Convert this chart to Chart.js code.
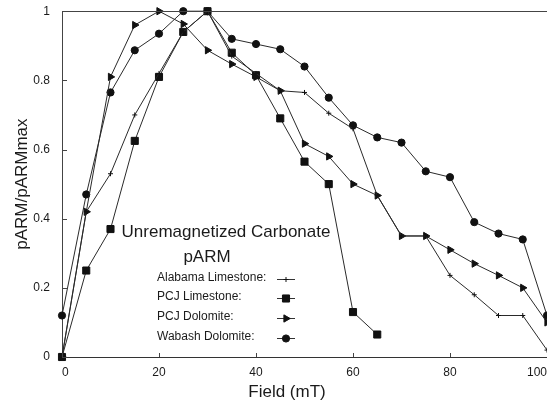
<!DOCTYPE html>
<html>
<head>
<meta charset="utf-8">
<script src="https://cdn.jsdelivr.net/npm/chart.js@4.4.1/dist/chart.umd.min.js"></script>
<style>
  html, body { margin: 0; padding: 0; background: #fff; overflow: hidden; }
  #chart { display: block; }
</style>
</head>
<body>
<canvas id="chart" width="547" height="405"></canvas>
<script>
// ==========================================
// 1. DATA
// ==========================================
const fieldMT = [0, 5, 10, 15, 20, 25, 30, 35, 40, 45, 50, 55, 60, 65, 70, 75, 80, 85, 90, 95, 100];

const alabamaLimestone = [0, 0.42, 0.53, 0.70, 0.82, 0.94, 1.0, 0.87, 0.82, 0.77, 0.765, 0.705, 0.66, 0.467, 0.35, 0.35, 0.236, 0.18, 0.12, 0.12, 0.02];
const pcjLimestone     = [0, 0.25, 0.37, 0.625, 0.81, 0.94, 1.0, 0.88, 0.815, 0.69, 0.565, 0.50, 0.13, 0.065];
const pcjDolomite      = [0, 0.42, 0.81, 0.96, 1.0, 0.963, 0.887, 0.847, 0.81, 0.77, 0.617, 0.58, 0.50, 0.467, 0.35, 0.35, 0.31, 0.27, 0.236, 0.20, 0.10];
const wabashDolomite   = [0.12, 0.47, 0.765, 0.887, 0.935, 1.0, 1.0, 0.92, 0.905, 0.89, 0.84, 0.75, 0.67, 0.635, 0.62, 0.537, 0.52, 0.39, 0.357, 0.34, 0.12];

const seriesNames = ['Alabama Limestone:', 'PCJ Limestone:', 'PCJ Dolomite:', 'Wabash Dolomite:'];
const xTickValues = [0, 20, 40, 60, 80, 100];
const yTickValues = [0, 0.2, 0.4, 0.6, 0.8, 1];

const legendTitle = ['Unremagnetized Carbonate', 'pARM'];

const FONT = '"Liberation Sans", Arial, Helvetica, sans-serif';
const INK = '#1a1a1a';

function toPoints(values) {
    return values.map((v, i) => ({ x: fieldMT[i], y: v }));
}

// marker styles per series
const markerStyles = [
    { pointStyle: 'cross', radius: 2.5, rotation: 0 },
    { pointStyle: 'rect', radius: 5, rotation: 0 },
    { pointStyle: 'triangle', radius: 4.2, rotation: 90 },
    { pointStyle: 'circle', radius: 3.6, rotation: 0 }
];

const seriesValues = [alabamaLimestone, pcjLimestone, pcjDolomite, wabashDolomite];

// ==========================================
// 2. PLUGIN: bordes, ticks internos, título X y leyenda
// ==========================================
const overlayPlugin = {
    id: 'overlay',
    afterDraw(chart) {
        const { ctx, chartArea, scales: { x, y } } = chart;
        ctx.save();
        ctx.strokeStyle = '#444';
        ctx.lineWidth = 1;

        // top frame line
        ctx.beginPath();
        ctx.moveTo(chartArea.left, Math.round(chartArea.top) + 0.5);
        ctx.lineTo(chartArea.right, Math.round(chartArea.top) + 0.5);
        ctx.stroke();

        // inward tick marks
        ctx.beginPath();
        xTickValues.forEach(v => {
            const px = Math.round(x.getPixelForValue(v)) + 0.5;
            ctx.moveTo(px, chartArea.bottom);
            ctx.lineTo(px, chartArea.bottom - 4);
        });
        yTickValues.forEach(v => {
            const py = Math.round(y.getPixelForValue(v)) + 0.5;
            ctx.moveTo(chartArea.left, py);
            ctx.lineTo(chartArea.left + 5, py);
        });
        ctx.stroke();

        // x axis title
        ctx.fillStyle = INK;
        ctx.font = '17px ' + FONT;
        ctx.textAlign = 'center';
        ctx.textBaseline = 'middle';
        ctx.fillText('Field (mT)', 287, 392);

        // legend box inside plot
        ctx.fillText(legendTitle[0], 226, 232);
        ctx.fillText(legendTitle[1], 207, 257);

        ctx.font = '12px ' + FONT;
        ctx.textAlign = 'left';
        const rowY = [278, 297, 317, 337];
        seriesNames.forEach((name, i) => {
            ctx.fillStyle = INK;
            ctx.fillText(name, 157, rowY[i]);
            ctx.strokeStyle = '#333';
            ctx.lineWidth = 1;
            ctx.beginPath();
            ctx.moveTo(277, rowY[i] + 1.5);
            ctx.lineTo(295, rowY[i] + 1.5);
            ctx.stroke();
            ctx.fillStyle = '#111';
            ctx.strokeStyle = '#111';
            Chart.helpers.drawPoint(ctx, Object.assign({ borderWidth: 1 }, markerStyles[i]), 286, rowY[i] + 1.5);
        });
        ctx.restore();
    }
};

// ==========================================
// 3. GRÁFICA
// ==========================================
function initializeChart() {
    const ctx = document.getElementById('chart').getContext('2d');
    new Chart(ctx, {
        type: 'line',
        data: {
            datasets: seriesValues.map((vals, i) => ({
                label: seriesNames[i],
                data: toPoints(vals),
                borderColor: '#2a2a2a',
                borderWidth: 1,
                backgroundColor: '#111',
                pointBackgroundColor: '#111',
                pointBorderColor: '#111',
                pointBorderWidth: 1,
                pointStyle: markerStyles[i].pointStyle,
                pointRadius: markerStyles[i].radius,
                pointRotation: markerStyles[i].rotation,
                tension: 0,
                fill: false,
                clip: 6
            }))
        },
        options: {
            responsive: false,
            animation: false,
            devicePixelRatio: 1,
            layout: { autoPadding: false, padding: { top: 10, right: 0, left: 0, bottom: 0 } },
            plugins: {
                legend: { display: false },
                tooltip: { enabled: false }
            },
            scales: {
                x: {
                    type: 'linear',
                    min: 0,
                    max: 100,
                    afterBuildTicks: s => { s.ticks = xTickValues.map(v => ({ value: v })); },
                    afterFit: s => { s.height = 48; s.paddingRight = 0; s.paddingLeft = 0; },
                    grid: { drawOnChartArea: false, drawTicks: true, tickLength: 8, tickColor: 'rgba(0,0,0,0)' },
                    border: { display: true, color: '#333', width: 1 },
                    ticks: {
                        padding: 0,
                        align: 'inner',
                        maxRotation: 0,
                        color: INK,
                        font: { family: FONT, size: 12 }
                    }
                },
                y: {
                    min: 0,
                    max: 1,
                    afterBuildTicks: s => { s.ticks = yTickValues.map(v => ({ value: v })); },
                    afterFit: s => { s.width = 62; },
                    grid: { drawOnChartArea: false, drawTicks: true, tickLength: 8, tickColor: 'rgba(0,0,0,0)' },
                    border: { display: true, color: '#444', width: 1 },
                    ticks: {
                        padding: 4,
                        color: INK,
                        font: { family: FONT, size: 12 },
                        callback: v => String(v)
                    },
                    title: {
                        display: true,
                        text: 'pARM/pARMmax',
                        color: INK,
                        font: { family: FONT, size: 17 },
                        padding: { top: 12, bottom: 0 }
                    }
                }
            }
        },
        plugins: [overlayPlugin]
    });
}

document.addEventListener('DOMContentLoaded', initializeChart);
</script>
</body>
</html>
